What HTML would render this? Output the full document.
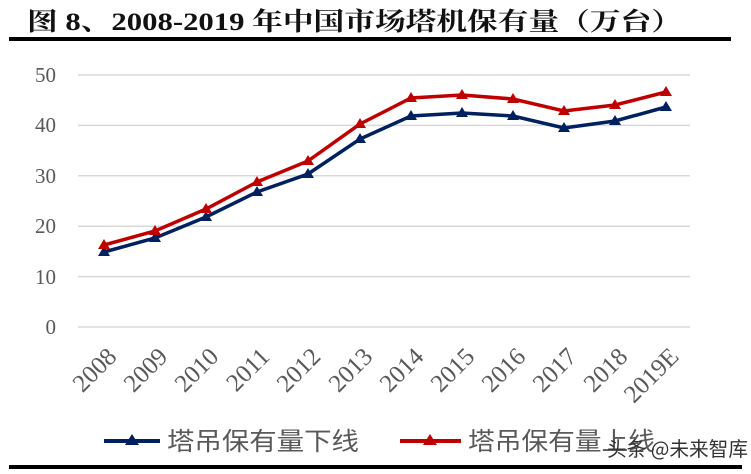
<!DOCTYPE html>
<html><head><meta charset="utf-8"><style>
body{margin:0;background:#fff;}
</style></head><body>
<svg width="751" height="474" xmlns="http://www.w3.org/2000/svg" style="display:block">
<text x="27" y="30" textLength="655" lengthAdjust="spacingAndGlyphs" font-family="Liberation Serif, Noto Serif CJK SC, serif" font-weight="bold" font-size="25" fill="#111">图 8、2008-2019 年中国市场塔机保有量（万台）</text>
<rect x="9" y="37" width="722" height="4" fill="#000"/>
<rect x="9" y="465" width="733" height="4" fill="#000"/>
<g stroke="#d9d9d9" stroke-width="1.5">
<line x1="78" x2="690" y1="75" y2="75"/><line x1="78" x2="690" y1="125.4" y2="125.4"/>
<line x1="78" x2="690" y1="175.8" y2="175.8"/><line x1="78" x2="690" y1="226.2" y2="226.2"/>
<line x1="78" x2="690" y1="276.6" y2="276.6"/><line x1="78" x2="690" y1="327" y2="327"/>
</g>
<g font-family="Liberation Serif, serif" font-size="21" fill="#595959" text-anchor="end">
<text x="56" y="82">50</text><text x="56" y="132">40</text><text x="56" y="183">30</text>
<text x="56" y="233">20</text><text x="56" y="284">10</text><text x="56" y="334">0</text>
</g>
<g font-family="Liberation Serif, serif" font-size="25" fill="#595959" text-anchor="end">
<text transform="translate(118,358) rotate(-45)">2008</text>
<text transform="translate(169,358) rotate(-45)">2009</text>
<text transform="translate(220,358) rotate(-45)">2010</text>
<text transform="translate(271,358) rotate(-45)">2011</text>
<text transform="translate(322,358) rotate(-45)">2012</text>
<text transform="translate(374,358) rotate(-45)">2013</text>
<text transform="translate(425,358) rotate(-45)">2014</text>
<text transform="translate(476,358) rotate(-45)">2015</text>
<text transform="translate(527,358) rotate(-45)">2016</text>
<text transform="translate(578,358) rotate(-45)">2017</text>
<text transform="translate(629,358) rotate(-45)">2018</text>
<text transform="translate(680,358) rotate(-45)">2019E</text>
</g>
<polyline fill="none" stroke="#002060" stroke-width="3.5" points="104,252 155,238 206,217 257,192 308,174 360,139 411,116 462,113 513,116 564,128 615,121 666,107"/>
<polyline fill="none" stroke="#c00000" stroke-width="3.5" points="104,245 155,231 206,209 257,182 308,161 360,124 411,98 462,95 513,99 564,111 615,105 666,92"/>
<g fill="#002060">
<path d="M104,246l6,10h-12z"/><path d="M155,232l6,10h-12z"/><path d="M206,211l6,10h-12z"/><path d="M257,186l6,10h-12z"/><path d="M308,168l6,10h-12z"/><path d="M360,133l6,10h-12z"/><path d="M411,110l6,10h-12z"/><path d="M462,107l6,10h-12z"/><path d="M513,110l6,10h-12z"/><path d="M564,122l6,10h-12z"/><path d="M615,115l6,10h-12z"/><path d="M666,101l6,10h-12z"/>
</g>
<g fill="#c00000">
<path d="M104,239l6,10h-12z"/><path d="M155,225l6,10h-12z"/><path d="M206,203l6,10h-12z"/><path d="M257,176l6,10h-12z"/><path d="M308,155l6,10h-12z"/><path d="M360,118l6,10h-12z"/><path d="M411,92l6,10h-12z"/><path d="M462,89l6,10h-12z"/><path d="M513,93l6,10h-12z"/><path d="M564,105l6,10h-12z"/><path d="M615,99l6,10h-12z"/><path d="M666,86l6,10h-12z"/>
</g>
<line x1="104" x2="160" y1="441" y2="441" stroke="#002060" stroke-width="4"/>
<path d="M132,434l7,11h-14z" fill="#002060"/>
<line x1="400" x2="461" y1="441" y2="441" stroke="#c00000" stroke-width="4"/>
<path d="M430,434l7,11h-14z" fill="#c00000"/>
<g font-family="Noto Sans CJK SC, sans-serif" font-size="25" fill="#595959">
<text x="167" y="450" textLength="192" lengthAdjust="spacingAndGlyphs">塔吊保有量下线</text>
<text x="468" y="450" textLength="187" lengthAdjust="spacingAndGlyphs">塔吊保有量上线</text>
</g>
<text x="607" y="456" textLength="141" lengthAdjust="spacingAndGlyphs" font-family="Noto Sans CJK SC, sans-serif" font-size="20" fill="#333">头条 @未来智库</text>
</svg>
</body></html>
